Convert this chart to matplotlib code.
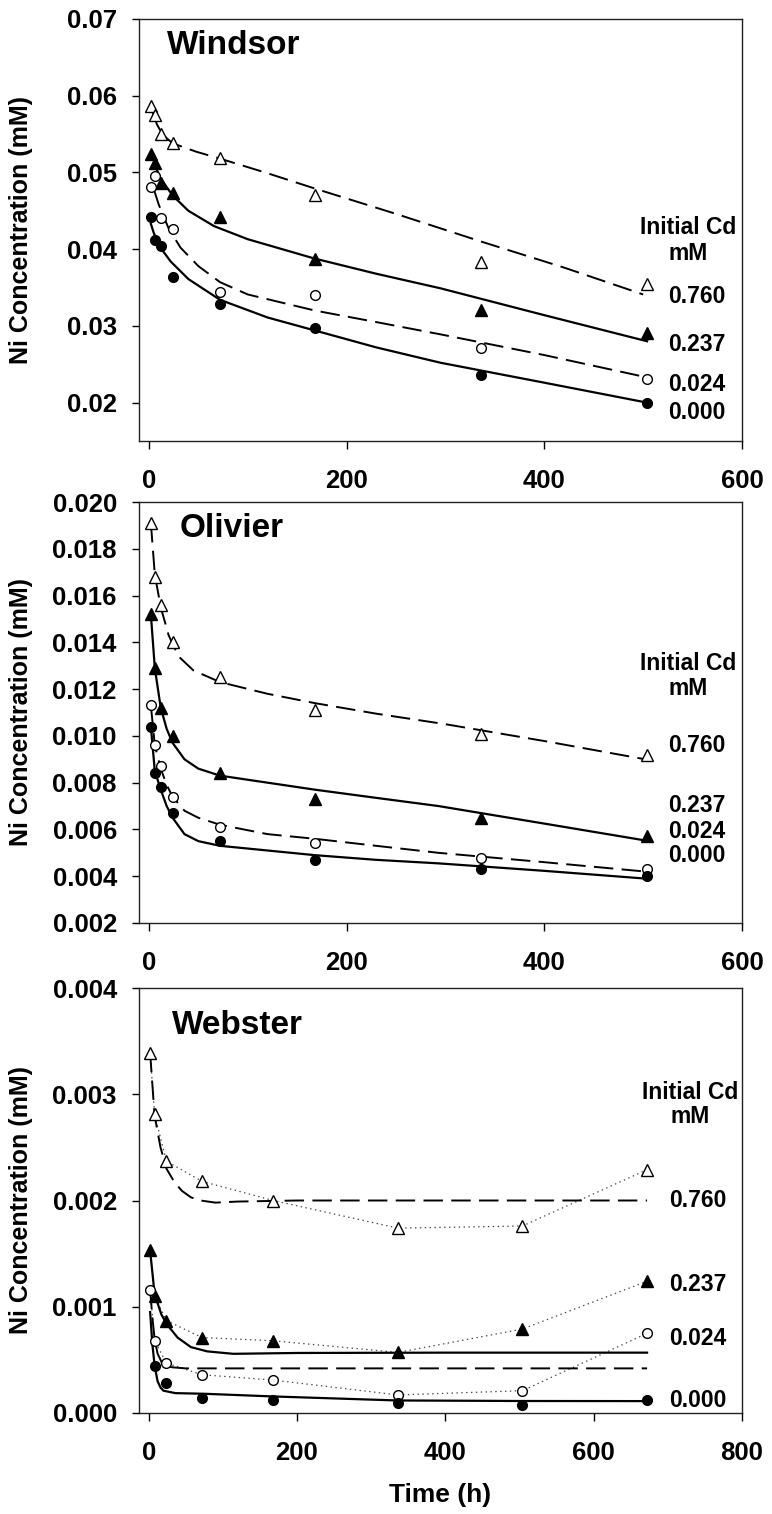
import matplotlib
matplotlib.use("Agg")
import matplotlib.pyplot as plt
import matplotlib.transforms as mtransforms

plt.rcParams['font.family'] = ['Liberation Sans', 'DejaVu Sans']
plt.rcParams['font.weight'] = 'bold'
plt.rcParams['lines.scale_dashes'] = False

# ---------------- data ----------------
cd_labels = ["0.760", "0.237", "0.024", "0.000"]

# Windsor
t_wind = [2, 6, 12, 24, 72, 168, 336, 504]
wind_760 = [0.0587, 0.0575, 0.0550, 0.0539, 0.0519, 0.0471, 0.0383, 0.0355]
wind_237 = [0.0524, 0.0512, 0.0486, 0.0473, 0.0442, 0.0387, 0.0321, 0.0291]
wind_024 = [0.0481, 0.0495, 0.0441, 0.0426, 0.0344, 0.0340, 0.0271, 0.0231]
wind_000 = [0.0442, 0.0412, 0.0404, 0.0364, 0.0328, 0.0297, 0.0236, 0.0200]

fit_wind_760_t = [4, 8, 14, 24, 48, 72, 120, 168, 250, 336, 420, 500]
fit_wind_760 = [0.0578, 0.0563, 0.0549, 0.0538, 0.0527, 0.0518, 0.0499, 0.0479, 0.0446, 0.0410, 0.0376, 0.0341]
fit_wind_237_t = [5, 12, 24, 40, 66, 100, 167, 230, 295, 400, 504]
fit_wind_237 = [0.0512, 0.0492, 0.0470, 0.0450, 0.0430, 0.0413, 0.0388, 0.0368, 0.0349, 0.0314, 0.0280]
fit_wind_024_t = [5, 10, 20, 32, 50, 72, 100, 168, 230, 295, 400, 500]
fit_wind_024 = [0.0478, 0.0458, 0.0427, 0.0402, 0.0378, 0.0357, 0.0341, 0.0320, 0.0305, 0.0289, 0.0262, 0.0234]
fit_wind_000_t = [2, 5, 10, 22, 40, 72, 120, 168, 230, 295, 400, 504]
fit_wind_000 = [0.0433, 0.0421, 0.0405, 0.0384, 0.0361, 0.0334, 0.0311, 0.0294, 0.0272, 0.0252, 0.0226, 0.0200]

# Olivier
t_oliv = [2, 6, 12, 24, 72, 168, 336, 504]
oliv_760 = [0.0191, 0.0168, 0.0156, 0.0140, 0.0125, 0.0111, 0.0101, 0.0092]
oliv_237 = [0.0152, 0.0129, 0.0112, 0.0100, 0.0084, 0.0073, 0.0065, 0.0057]
oliv_024 = [0.0113, 0.0096, 0.0087, 0.0074, 0.0061, 0.0054, 0.0048, 0.0043]
oliv_000 = [0.0104, 0.0084, 0.0078, 0.0067, 0.0055, 0.0047, 0.0043, 0.0040]

fit_oliv_760_t = [2, 6, 12, 20, 30, 45, 72, 120, 168, 230, 300, 400, 502]
fit_oliv_760 = [0.0191, 0.0169, 0.0155, 0.0143, 0.0134, 0.0128, 0.0123, 0.0118, 0.0114, 0.01095, 0.0105, 0.00978, 0.0090]
fit_oliv_237_t = [2, 6, 12, 18, 24, 36, 50, 72, 120, 168, 230, 293, 400, 502]
fit_oliv_237 = [0.0152, 0.0129, 0.0112, 0.0103, 0.0097, 0.0090, 0.0086, 0.0083, 0.0080, 0.0077, 0.00735, 0.0070, 0.00625, 0.00553]
fit_oliv_024_t = [2, 6, 12, 18, 24, 36, 50, 72, 120, 168, 230, 293, 400, 502]
fit_oliv_024 = [0.0113, 0.0096, 0.0086, 0.0079, 0.0074, 0.0068, 0.0065, 0.0062, 0.0058, 0.0056, 0.0053, 0.0050, 0.0046, 0.0042]
fit_oliv_000_t = [2, 6, 12, 18, 24, 36, 50, 72, 120, 168, 230, 293, 400, 502]
fit_oliv_000 = [0.0104, 0.0085, 0.0077, 0.0070, 0.0065, 0.0058, 0.0055, 0.0053, 0.0051, 0.0049, 0.0047, 0.00455, 0.00423, 0.0039]

# Webster
t_webs = [2, 8, 24, 72, 168, 336, 504, 672]
webs_760 = [0.00339, 0.00281, 0.00237, 0.00218, 0.00200, 0.00174, 0.00176, 0.00229]
webs_237 = [0.00153, 0.00110, 0.00087, 0.00071, 0.00068, 0.00057, 0.00079, 0.00124]
webs_024 = [0.00116, 0.00068, 0.00047, 0.00036, 0.00031, 0.00017, 0.00021, 0.00075]
t_webs_000 = [8, 24, 72, 168, 336, 504, 672]
webs_000 = [0.00044, 0.00028, 0.00014, 0.00012, 0.00009, 0.00008, 0.00012]

fit_webs_760_t = [2, 8, 16, 24, 35, 45, 57, 70, 90, 120, 200, 400, 672]
fit_webs_760 = [0.00339, 0.00280, 0.00250, 0.00230, 0.00217, 0.00209, 0.00203, 0.00200, 0.00198, 0.00199, 0.00200, 0.00200, 0.00200]
fit_webs_237_t = [2, 8, 17, 24, 39, 57, 79, 114, 200, 400, 672]
fit_webs_237 = [0.00153, 0.00112, 0.00093, 0.00084, 0.00071, 0.00062, 0.00058, 0.000557, 0.000565, 0.000568, 0.000568]
fit_webs_024_t = [2, 5, 8, 12, 18, 25, 32, 50, 100, 672]
fit_webs_024 = [0.00116, 0.00090, 0.00070, 0.00056, 0.00047, 0.00044, 0.00043, 0.00042, 0.00042, 0.00042]
fit_webs_000_t = [2, 5, 8, 12, 16, 20, 36, 75, 167, 335, 500, 672]
fit_webs_000 = [0.00095, 0.00065, 0.00045, 0.00030, 0.00024, 0.00021, 0.000187, 0.000181, 0.000156, 0.000118, 0.000113, 0.000112]

# label y-positions (data units) per panel
lab_y_wind = [0.0338, 0.0276, 0.0223, 0.0187]
lab_y_oliv = [0.0096, 0.00704, 0.0059, 0.0049]
lab_y_webs = [0.00200, 0.00121, 0.00070, 0.00012]
head_y_wind = [0.0428, 0.0395]
head_y_oliv = [0.01309, 0.01203]
head_y_webs = [0.00302, 0.00279]

# ---------------- figure ----------------
W, H = 772, 1514
fig = plt.figure(figsize=(W / 100, H / 100), dpi=100)

def axes_px(left, top, right, bottom):
    return fig.add_axes([left / W, 1 - bottom / H, (right - left) / W, (bottom - top) / H])

ax1 = axes_px(139, 19, 742, 441)
ax2 = axes_px(139, 502, 742, 923)
ax3 = axes_px(139, 988, 742, 1413)

DASH = (0, (14, 6))
DOT = (0, (1, 2.5))
open_tri = dict(marker='^', ms=8, mfc='white', mec='black', mew=1.0, ls='none')
fill_tri = dict(marker='^', ms=8, mfc='black', mec='black', mew=1.0, ls='none')
open_cir = dict(marker='o', ms=7, mfc='white', mec='black', mew=1.0, ls='none')
fill_cir = dict(marker='o', ms=7, mfc='black', mec='black', mew=1.0, ls='none')


def style_axes(ax, xlim, xticks, ylim, yticks, yfmt):
    ax.set_xlim(*xlim)
    ax.set_ylim(*ylim)
    ax.set_xticks(xticks)
    ax.set_yticks(yticks)
    ax.set_yticklabels([yfmt.format(v) for v in yticks])
    ax.tick_params(axis='both', which='both', direction='out', top=False, right=False,
                   labelsize=18.5, width=1.0, color='black')
    ax.tick_params(axis='x', length=6, pad=14)
    ax.tick_params(axis='y', length=5, pad=11)
    for lab in ax.get_xticklabels() + ax.get_yticklabels():
        lab.set_fontweight('bold')
    for s in ax.spines.values():
        s.set_linewidth(1.0)
        s.set_color('#222222')
    ax.set_ylabel("Ni Concentration (mM)", fontsize=18, fontweight='bold')
    ax.yaxis.set_label_coords(-0.176, 0.5)


def labels(ax, lab_y, head_y, xnum, xhead):
    tr = mtransforms.blended_transform_factory(ax.transAxes, ax.transData)
    ax.text(xhead, head_y[0], "Initial Cd", transform=tr, ha='center', va='center',
            fontsize=16.5, fontweight='bold')
    ax.text(xhead, head_y[1], "mM", transform=tr, ha='center', va='center',
            fontsize=16.5, fontweight='bold')
    for txt, y in zip(cd_labels, lab_y):
        ax.text(xnum, y, txt, transform=tr, ha='center', va='center',
                fontsize=16.5, fontweight='bold')


# ---- Windsor ----
ax = ax1
ax.plot(fit_wind_760_t, fit_wind_760, color='black', lw=1.4, ls=DASH)
ax.plot(fit_wind_237_t, fit_wind_237, color='black', lw=1.6, ls='-')
ax.plot(fit_wind_024_t, fit_wind_024, color='black', lw=1.4, ls=DASH)
ax.plot(fit_wind_000_t, fit_wind_000, color='black', lw=1.6, ls='-')
ax.plot(t_wind, wind_760, **open_tri)
ax.plot(t_wind, wind_237, **fill_tri)
ax.plot(t_wind, wind_024, **open_cir)
ax.plot(t_wind, wind_000, **fill_cir)
style_axes(ax, (-10, 600), [0, 200, 400, 600], (0.015, 0.07),
           [0.02, 0.03, 0.04, 0.05, 0.06, 0.07], "{:.2f}")
ax.text(0.046, 0.0665, "Windsor", transform=mtransforms.blended_transform_factory(ax.transAxes, ax.transData),
        fontsize=24, fontweight='bold', ha='left', va='center')
labels(ax, lab_y_wind, head_y_wind, 0.925, 0.911)

# ---- Olivier ----
ax = ax2
ax.plot(fit_oliv_760_t, fit_oliv_760, color='black', lw=1.4, ls=DASH)
ax.plot(fit_oliv_237_t, fit_oliv_237, color='black', lw=1.6, ls='-')
ax.plot(fit_oliv_024_t, fit_oliv_024, color='black', lw=1.4, ls=DASH)
ax.plot(fit_oliv_000_t, fit_oliv_000, color='black', lw=1.6, ls='-')
ax.plot(t_oliv, oliv_760, **open_tri)
ax.plot(t_oliv, oliv_237, **fill_tri)
ax.plot(t_oliv, oliv_024, **open_cir)
ax.plot(t_oliv, oliv_000, **fill_cir)
style_axes(ax, (-10, 600), [0, 200, 400, 600], (0.002, 0.020),
           [0.002, 0.004, 0.006, 0.008, 0.010, 0.012, 0.014, 0.016, 0.018, 0.020], "{:.3f}")
ax.text(0.068, 0.01888, "Olivier", transform=mtransforms.blended_transform_factory(ax.transAxes, ax.transData),
        fontsize=24, fontweight='bold', ha='left', va='center')
labels(ax, lab_y_oliv, head_y_oliv, 0.925, 0.911)

# ---- Webster ----
ax = ax3
ax.plot(t_webs, webs_760, color='#444444', lw=0.9, ls=DOT)
ax.plot(t_webs, webs_237, color='#444444', lw=0.9, ls=DOT)
ax.plot(t_webs, webs_024, color='#444444', lw=0.9, ls=DOT)
ax.plot(fit_webs_760_t, fit_webs_760, color='black', lw=1.4, ls=DASH)
ax.plot(fit_webs_237_t, fit_webs_237, color='black', lw=1.6, ls='-')
ax.plot(fit_webs_024_t, fit_webs_024, color='black', lw=1.4, ls=DASH)
ax.plot(fit_webs_000_t, fit_webs_000, color='black', lw=1.6, ls='-')
ax.plot(t_webs, webs_760, **open_tri)
ax.plot(t_webs, webs_237, **fill_tri)
ax.plot(t_webs, webs_024, **open_cir)
ax.plot(t_webs_000, webs_000, **fill_cir)
style_axes(ax, (-13, 800), [0, 200, 400, 600, 800], (0.0, 0.004),
           [0.000, 0.001, 0.002, 0.003, 0.004], "{:.3f}")
ax.text(0.054, 0.00365, "Webster", transform=mtransforms.blended_transform_factory(ax.transAxes, ax.transData),
        fontsize=24, fontweight='bold', ha='left', va='center')
labels(ax, lab_y_webs, head_y_webs, 0.926, 0.914)
ax.set_xlabel("Time (h)", fontsize=19, fontweight='bold')
ax.xaxis.set_label_coords(0.5, -0.193)
ax.xaxis.label.set_va('center')

fig.savefig("out.png", dpi=100)
